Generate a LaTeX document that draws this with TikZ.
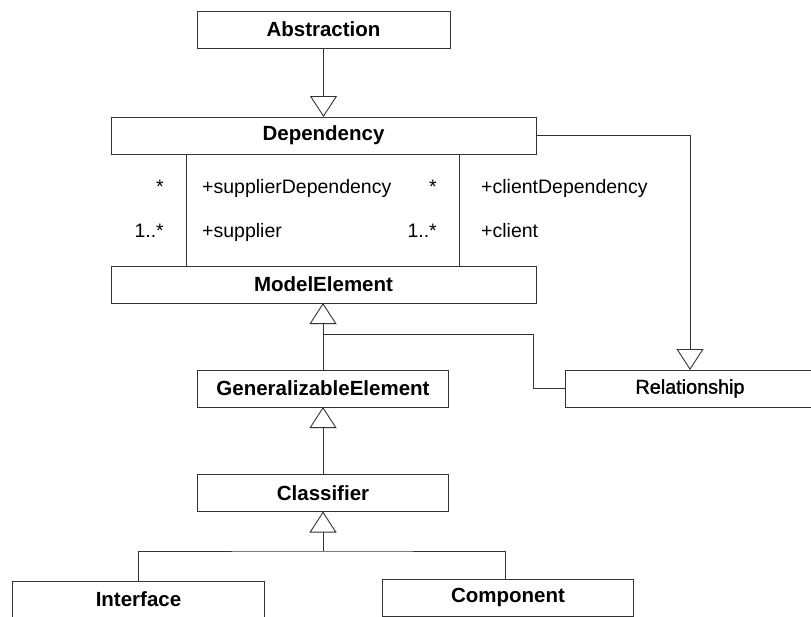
\documentclass[tikz,border=0pt]{standalone}
\usepackage{fontspec}
\setmainfont{Liberation Sans}
\newfontface\medface{Liberation Sans}[FakeBold=1.5]
\usetikzlibrary{arrows.meta}

\tikzset{
  umlclass/.style={draw=black!80, line width=0.9pt, fill=white, inner sep=0pt, outer sep=0pt,
    minimum height=37pt, font=\fontsize{20.5}{24}\selectfont\bfseries},
  plainclass/.style={umlclass, font=\fontsize{19.8}{24}\selectfont\medface},
  role/.style={inner sep=0pt, font=\fontsize{19.5}{22}\selectfont},
  link/.style={draw=black!80, line width=0.9pt},
  inherit/.style={link, -{Triangle[open, length=21pt, width=27pt, line width=0.9pt]}},
}

\begin{document}
\begin{tikzpicture}[x=1pt, y=-1pt]
  \useasboundingbox (0,0) rectangle (811,616);
  \clip (0,0) rectangle (811,616);

  % classes
  \node[umlclass, minimum width=253pt] (abs)  at (323.5, 29.5)  {Abstraction};
  \node[umlclass, minimum width=425pt] (dep)  at (323.5, 135.5) {Dependency};
  \node[umlclass, minimum width=425pt] (me)   at (323.5, 284.5) {ModelElement};
  \node[umlclass, minimum width=251pt] (gen)  at (323, 388.5)   {GeneralizableElement};
  \node[plainclass, minimum width=250pt] (rel) at (690, 388.5)  {Relationship};
  \node[umlclass, minimum width=251pt] (cls)  at (323, 493)     {Classifier};
  \node[umlclass, minimum width=252pt] (intf) at (138.5, 599.5) {Interface};
  \node[umlclass, minimum width=251pt] (comp) at (508, 597.5)   {Component};

  % associations between Dependency and ModelElement
  \coordinate (sup) at (186.5, 0);
  \coordinate (cli) at (459, 0);
  \draw[link] (dep.south -| sup) -- (me.north -| sup);
  \draw[link] (dep.south -| cli) -- (me.north -| cli);

  % association end labels
  \node[role, anchor=base east] (supm)  at (164, 193) {*};
  \node[role, anchor=base west] (supr)  at (202, 193) {+supplierDependency};
  \node[role, anchor=base east] (supm2) at (164, 237) {1..*};
  \node[role, anchor=base west] (supr2) at (202, 237) {+supplier};
  \node[role, anchor=base east] (clim)  at (437, 193) {*};
  \node[role, anchor=base west] (clir)  at (481, 193) {+clientDependency};
  \node[role, anchor=base east] (clim2) at (437, 237) {1..*};
  \node[role, anchor=base west] (clir2) at (481, 237) {+client};

  % generalizations
  \draw[inherit] (abs.south) -- (dep.north);
  \draw[inherit] (dep.east) -| (rel.north);
  \draw[inherit] (gen.north) -- (me.south -| gen.north);

  \coordinate (relbend) at (533, 334);
  \draw[link] (rel.west) -- (rel.west -| relbend) -- (relbend) -- (relbend -| gen.north);

  \draw[inherit] (cls.north) -- (gen.south);

  \coordinate (fork) at (323, 551);
  \coordinate (compdrop) at (505.5, 0);
  \draw[inherit] (fork) -- (cls.south);
  \draw[link] (intf.north) |- (fork) -| (comp.north -| compdrop);
\end{tikzpicture}
\end{document}
